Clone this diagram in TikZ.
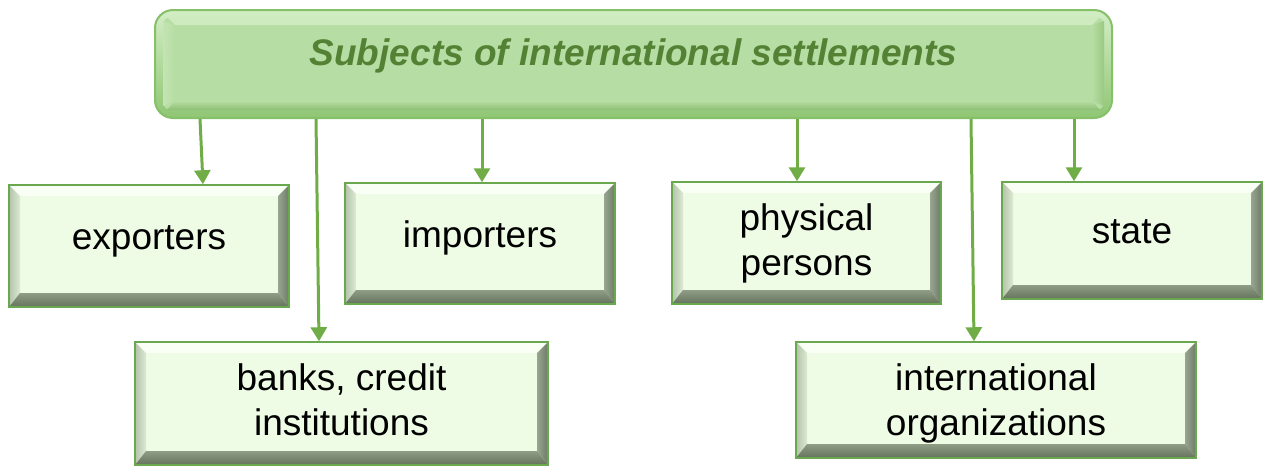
\documentclass[tikz,border=0pt]{standalone}
\usepackage{fontspec}
\setmainfont{Liberation Sans}
\usetikzlibrary{arrows.meta}
\definecolor{arrowgreen}{HTML}{70AD47}
\definecolor{boxborder}{HTML}{6AA84F}
\definecolor{boxfill}{HTML}{EEFBE5}
\definecolor{bevtop}{HTML}{FAFFF6}
\definecolor{bevleftA}{HTML}{B3C2A9}
\definecolor{bevleftB}{HTML}{DDEAD4}
\definecolor{bevrightA}{HTML}{98A590}
\definecolor{bevrightB}{HTML}{6E7C67}
\definecolor{bevbotA}{HTML}{8F9D87}
\definecolor{bevbotB}{HTML}{65735D}
\definecolor{titletxt}{HTML}{548235}
\definecolor{titleborder}{HTML}{86C068}
\definecolor{ringtop}{HTML}{D3EEC5}
\definecolor{ringbot}{HTML}{8FC673}
\definecolor{tinner}{HTML}{B6DDA3}
\definecolor{ttop}{HTML}{CDEBBE}
\definecolor{tleft}{HTML}{C4E4B3}
\definecolor{tright}{HTML}{9BC982}
\definecolor{tbot}{HTML}{8EBF74}
\newcommand{\celltext}[2][0pt]{\raisebox{#1}[\height][\depth]{\begin{tabular}{@{}c@{}}#2\end{tabular}}}
\def\bv{11pt}
\def\bb{14pt}
\tikzset{
  subj/.style={draw=boxborder, line width=1.5pt, fill=boxfill, inner sep=0pt,
    font=\fontsize{37}{45}\selectfont,
    path picture={
      \coordinate (NW) at (path picture bounding box.north west);
      \coordinate (NE) at (path picture bounding box.north east);
      \coordinate (SW) at (path picture bounding box.south west);
      \coordinate (SE) at (path picture bounding box.south east);
      \fill[bevtop] (NW) -- (NE) -- ([xshift=-\bv,yshift=-\bv]NE) -- ([xshift=\bv,yshift=-\bv]NW) -- cycle;
      \shade[left color=bevleftA, right color=bevleftB] (NW) -- ([xshift=\bv,yshift=-\bv]NW) -- ([xshift=\bv,yshift=\bb]SW) -- (SW) -- cycle;
      \shade[left color=bevrightA, right color=bevrightB] (NE) -- (SE) -- ([xshift=-\bv,yshift=\bb]SE) -- ([xshift=-\bv,yshift=-\bv]NE) -- cycle;
      \shade[top color=bevbotA, bottom color=bevbotB] (SW) -- ([xshift=\bv,yshift=\bb]SW) -- ([xshift=-\bv,yshift=\bb]SE) -- (SE) -- cycle;
    }},
  titlebox/.style={draw=titleborder, line width=2pt, rounded corners=18pt,
    top color=ringtop, bottom color=ringbot, inner sep=0pt,
    font=\fontsize{37}{45}\selectfont\bfseries\itshape, text=titletxt,
    path picture={
      \coordinate (A) at ([xshift=8pt,yshift=-7pt]path picture bounding box.north west);
      \coordinate (B) at ([xshift=-8pt,yshift=-7pt]path picture bounding box.north east);
      \coordinate (C) at ([xshift=-8pt,yshift=8pt]path picture bounding box.south east);
      \coordinate (D) at ([xshift=8pt,yshift=8pt]path picture bounding box.south west);
      \fill[tinner, rounded corners=8pt] (A) -- (B) -- (C) -- (D) -- cycle;
      \fill[ttop, sharp corners] ([xshift=4pt]A) -- ([xshift=-4pt]B) -- ([xshift=-12pt,yshift=-8pt]B) -- ([xshift=12pt,yshift=-8pt]A) -- cycle;
      \shade[left color=tleft, right color=tinner, sharp corners] ([yshift=-4pt]A) -- ([xshift=12pt,yshift=-8pt]A) -- ([xshift=12pt,yshift=9pt]D) -- ([yshift=4pt]D) -- cycle;
      \shade[left color=tinner, right color=tright, sharp corners] ([yshift=-4pt]B) -- ([yshift=4pt]C) -- ([xshift=-12pt,yshift=9pt]C) -- ([xshift=-12pt,yshift=-8pt]B) -- cycle;
      \shade[top color=tinner, bottom color=tbot, sharp corners] ([xshift=4pt]D) -- ([xshift=12pt,yshift=9pt]D) -- ([xshift=-12pt,yshift=9pt]C) -- ([xshift=-4pt]C) -- cycle;
    }},
  arr/.style={draw=arrowgreen, line width=3pt, -{Triangle[width=16pt,length=14pt]}},
}
\begin{document}
\begin{tikzpicture}[x=1pt, y=-1pt]
\useasboundingbox (0,0) rectangle (1270,466);
\node[titlebox, minimum width=957pt, minimum height=108pt] (title) at (633.5,64)
  {\raisebox{8pt}[\height][\depth]{Subjects of international settlements}};
\node[subj, minimum width=280pt, minimum height=122pt] (exp) at (149,246) {\celltext[6pt]{exporters}};
\node[subj, minimum width=270pt, minimum height=121pt] (imp) at (480,243.5) {\celltext[5pt]{importers}};
\node[subj, minimum width=269pt, minimum height=122pt] (phys) at (806.5,243) {\celltext[-1pt]{physical\\persons}};
\node[subj, minimum width=260pt, minimum height=117pt] (state) at (1132,240.5) {\celltext[6pt]{state}};
\node[subj, minimum width=413pt, minimum height=123pt] (banks) at (341.5,403.5) {\celltext{banks, credit\\institutions}};
\node[subj, minimum width=400pt, minimum height=116pt] (intl) at (996,400) {\celltext[-4pt]{international\\organizations}};
\draw[arr] (title.south -| 200,0) -- (exp.north -| 203,0);
\draw[arr] (title.south -| 316,0) -- (banks.north -| 319,0);
\draw[arr] (title.south -| 482,0) -- (imp.north -| 482,0);
\draw[arr] (title.south -| 797,0) -- (phys.north -| 797,0);
\draw[arr] (title.south -| 971,0) -- (intl.north -| 974,0);
\draw[arr] (title.south -| 1074,0) -- (state.north -| 1074,0);
\end{tikzpicture}
\end{document}
